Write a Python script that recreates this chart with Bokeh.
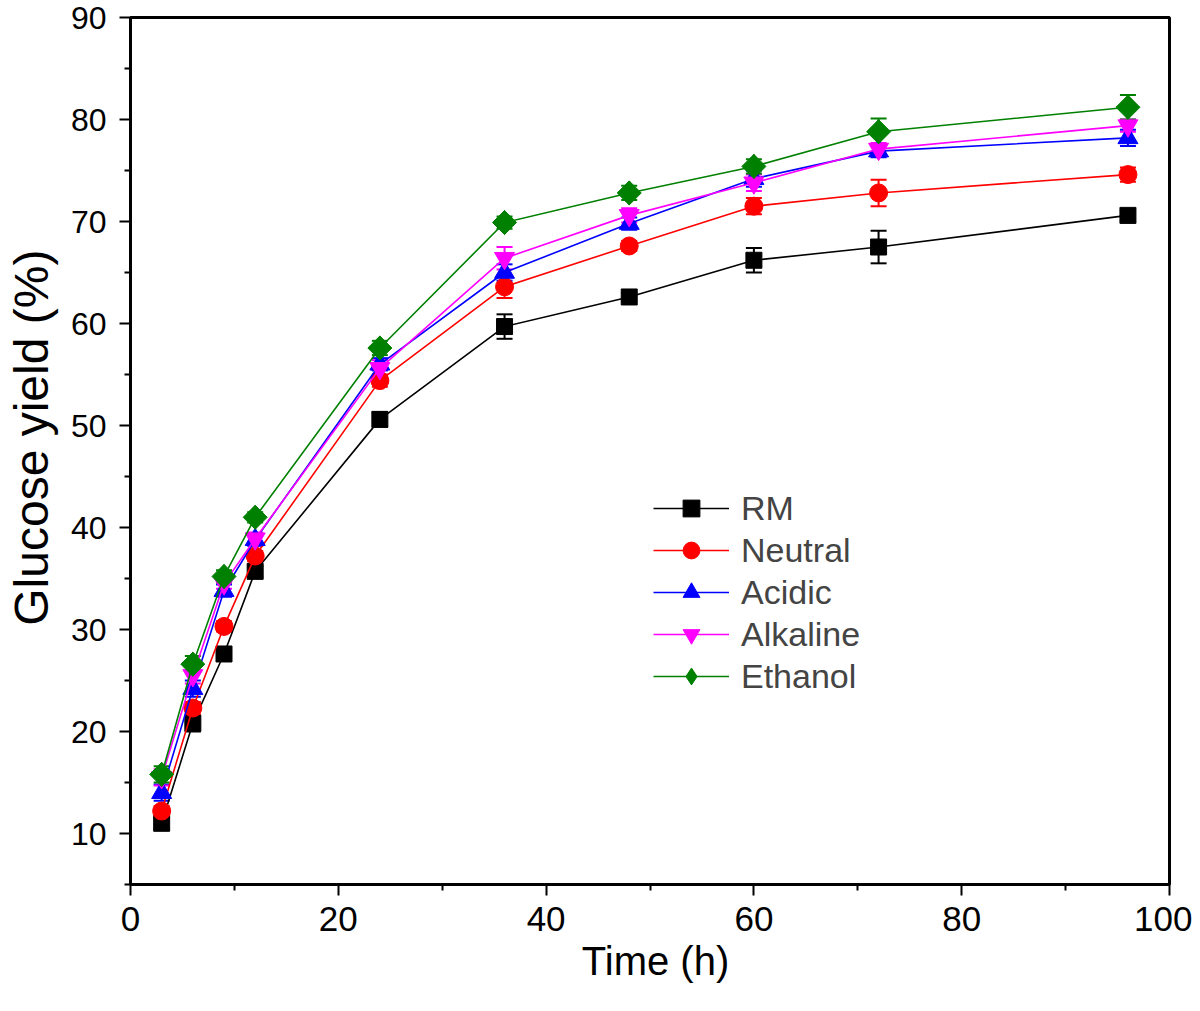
import math
from bokeh.plotting import figure
from bokeh.models import (ColumnDataSource, Whisker, TeeHead, FixedTicker, Legend, LegendItem, Range1d)
from bokeh.embed import file_html
from bokeh.resources import INLINE

time_h = [3, 6, 9, 12, 24, 36, 48, 60, 72, 96]
series_names = ["RM", "Neutral", "Acidic", "Alkaline", "Ethanol"]
rm = [11.0, 20.8, 27.6, 35.7, 50.6, 59.7, 62.6, 66.2, 67.5, 70.6]
neutral = [12.2, 22.3, 30.3, 37.2, 54.4, 63.6, 67.6, 71.5, 72.8, 74.6]
acidic = [14.0, 24.2, 33.8, 38.8, 56.0, 65.0, 69.8, 74.2, 76.9, 78.2]
alkaline = [15.5, 25.5, 34.5, 38.9, 55.6, 66.4, 70.6, 73.8, 77.1, 79.4]
ethanol = [15.8, 26.6, 35.2, 41.0, 57.6, 69.9, 72.8, 75.4, 78.8, 81.2]
rm_err = [0.5, 0.8, 0.5, 0.5, 0.7, 1.2, 0.4, 1.2, 1.6, 0.5]
neutral_err = [0.5, 0.6, 0.5, 0.5, 0.6, 1.1, 0.5, 0.8, 1.3, 0.7]
acidic_err = [0.8, 0.8, 0.6, 0.6, 0.6, 0.8, 0.6, 0.8, 0.6, 0.8]
alkaline_err = [0.8, 0.8, 0.5, 0.6, 0.8, 1.1, 0.7, 0.8, 0.6, 0.6]
ethanol_err = [0.8, 0.8, 0.6, 0.5, 0.7, 0.6, 0.7, 0.7, 1.3, 1.2]
x_ticks = [0, 20, 40, 60, 80, 100]
x_minor = [10, 30, 50, 70, 90]
y_ticks = [10, 20, 30, 40, 50, 60, 70, 80, 90]
y_minor = [5, 15, 25, 35, 45, 55, 65, 75, 85]

values = [rm, neutral, acidic, alkaline, ethanol]
errors = [rm_err, neutral_err, acidic_err, alkaline_err, ethanol_err]
colors = ["#000000", "#ff0000", "#0000ff", "#ff00ff", "#008000"]
markers = ["square", "circle", "triangle", "inverted_triangle", "square"]
angles = [0, 0, 0, 0, math.pi / 4]
sizes = [16, 18, 20, 20, 17]

FONT = "Liberation Sans"

p = figure(width=1192, height=995, output_backend="svg", toolbar_location=None,
           x_range=Range1d(0, 100), y_range=Range1d(5, 90),
           min_border_left=130, min_border_right=23, min_border_top=17, min_border_bottom=111)
p.grid.visible = False
p.outline_line_color = "black"
p.outline_line_width = 3

for ax in (p.xaxis[0], p.yaxis[0]):
    ax.axis_line_width = 3
    ax.major_tick_line_width = 2
    ax.minor_tick_line_width = 2
    ax.major_tick_out = 11
    ax.major_tick_in = 0
    ax.minor_tick_out = 6
    ax.minor_tick_in = 0
    ax.major_label_text_font = FONT
    ax.major_label_text_color = "black"
    ax.axis_label_text_font = FONT
    ax.axis_label_text_font_style = "normal"
    ax.axis_label_text_color = "black"

p.xaxis.major_label_text_font_size = "35px"
p.yaxis.major_label_text_font_size = "32px"
p.xaxis.axis_label_text_font_size = "40px"
p.yaxis.axis_label_text_font_size = "48px"
p.xaxis.ticker = FixedTicker(ticks=x_ticks, minor_ticks=x_minor)
p.yaxis.ticker = FixedTicker(ticks=y_ticks, minor_ticks=y_minor)
p.xaxis.axis_label = "\u00a0Time (h)"
p.yaxis.axis_label = "\u00a0\u00a0Glucose yield (%)"
p.xaxis.major_label_standoff = 11
p.yaxis.major_label_standoff = 13
p.xaxis.axis_label_standoff = 5
p.yaxis.axis_label_standoff = 10

items = []
for name, vals, errs, col, mk, ang, sz in zip(series_names, values, errors, colors, markers, angles, sizes):
    src = ColumnDataSource(dict(x=time_h, y=vals,
                                lo=[v - e for v, e in zip(vals, errs)],
                                hi=[v + e for v, e in zip(vals, errs)]))
    w = Whisker(source=src, base="x", lower="lo", upper="hi", line_color=col, line_width=2,
                upper_head=TeeHead(size=16, line_color=col, line_width=2),
                lower_head=TeeHead(size=16, line_color=col, line_width=2))
    p.add_layout(w)
    ln = p.line("x", "y", source=src, line_color=col, line_width=1.6)
    legend_mark = None
    if ang:
        # a diamond hidden under the rotated square; it supplies the legend symbol
        legend_mark = p.scatter("x", "y", source=src, marker="diamond", size=24,
                                fill_color=col, line_color=col)
    sc = p.scatter("x", "y", source=src, marker=mk, size=sz, angle=ang,
                   fill_color=col, line_color=col)
    items.append(LegendItem(label=name, renderers=[ln, legend_mark or sc]))

legend = Legend(items=items, location=(523, 187), glyph_width=76, glyph_height=42,
                label_text_font=FONT, label_text_font_size="34px", label_standoff=12,
                spacing=0, border_line_color=None, background_fill_alpha=0,
                padding=0, margin=0)
p.add_layout(legend)

open("out.html", "w").write(file_html(p, INLINE))
